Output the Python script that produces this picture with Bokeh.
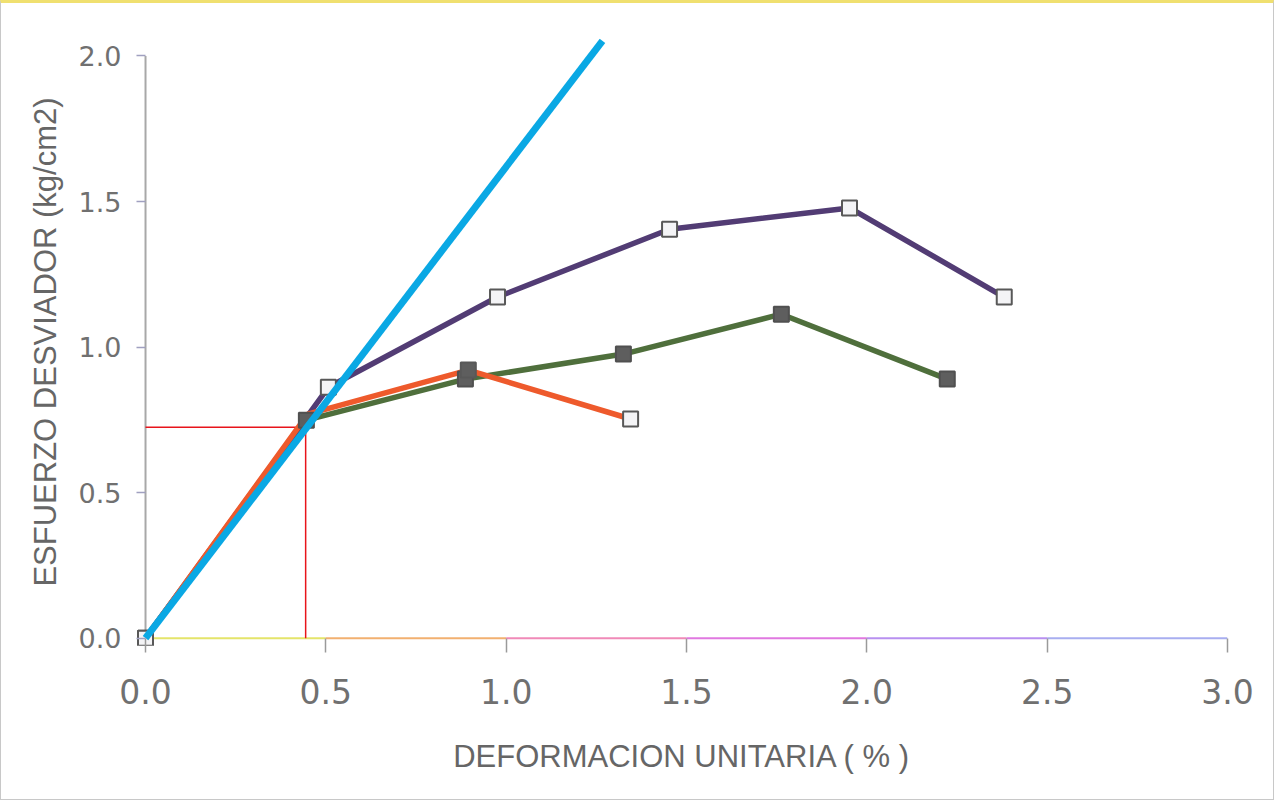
from bokeh.plotting import figure
from bokeh.models import Range1d, FixedTicker
from bokeh.embed import file_html
from bokeh.resources import INLINE

# ---- data ----
x_ticks = [0.0, 0.5, 1.0, 1.5, 2.0, 2.5, 3.0]
y_ticks = [0.0, 0.5, 1.0, 1.5, 2.0]
x_tick_labels = ["0.0", "0.5", "1.0", "1.5", "2.0", "2.5", "3.0"]
y_tick_labels = ["0.0", "0.5", "1.0", "1.5", "2.0"]

purple_x = [0.0, 0.507, 0.976, 1.453, 1.952, 2.381]
purple_y = [0.0, 0.862, 1.172, 1.405, 1.478, 1.172]

green_x = [0.0, 0.446, 0.887, 1.325, 1.763, 2.223]
green_y = [0.0, 0.749, 0.890, 0.976, 1.113, 0.890]

red_x = [0.0, 0.45, 0.895, 1.345]
red_y = [0.0, 0.77, 0.921, 0.753]

fit_x = [0.0, 1.267]
fit_y = [0.0, 2.052]

ref_x = 0.444
ref_y = 0.725

x_label = "DEFORMACION UNITARIA ( % )"
y_label = "ESFUERZO DESVIADOR (kg/cm2)"

# ---- figure ----
p = figure(width=1274, height=800,
           x_range=Range1d(-0.025, 3.0), y_range=Range1d(-0.025, 2.06),
           output_backend="svg", toolbar_location=None,
           min_border_left=135, min_border_right=48,
           min_border_top=35, min_border_bottom=158)
p.xgrid.visible = False
p.ygrid.visible = False
p.outline_line_color = None
p.background_fill_color = "white"
p.border_fill_color = "white"
p.styles = {"border": "1px solid #c8c8c8", "border-top": "3px solid #f0e070"}

# x axis
xa = p.xaxis[0]
xa.ticker = FixedTicker(ticks=x_ticks)
xa.major_label_overrides = {t: l for t, l in zip(x_ticks, x_tick_labels)}
xa.axis_line_color = None
xa.minor_tick_line_color = None
xa.major_tick_in = 7
xa.major_tick_out = 7
xa.major_tick_line_color = "#9a9a9a"
xa.major_tick_line_width = 1.5
xa.major_label_text_font = "DejaVu Sans"
xa.major_label_text_font_size = "33px"
xa.major_label_text_color = "#707070"
xa.major_label_standoff = 26
xa.axis_label = x_label
xa.axis_label_text_font = "Liberation Sans"
xa.axis_label_text_font_size = "31px"
xa.axis_label_text_font_style = "normal"
xa.axis_label_text_color = "#666666"
xa.axis_label_standoff = 32

# y axis
ya = p.yaxis[0]
ya.ticker = FixedTicker(ticks=y_ticks)
ya.major_label_overrides = {t: l for t, l in zip(y_ticks, y_tick_labels)}
ya.axis_line_color = None
ya.minor_tick_line_color = None
ya.major_tick_in = 9
ya.major_tick_out = 0
ya.major_tick_line_color = "#a0a0c0"
ya.major_tick_line_width = 1.5
ya.major_label_text_font = "DejaVu Sans"
ya.major_label_text_font_size = "27px"
ya.major_label_text_color = "#707070"
ya.major_label_standoff = 15
ya.axis_label = y_label
ya.axis_label_text_font = "Liberation Sans"
ya.axis_label_text_font_size = "31px"
ya.axis_label_text_font_style = "normal"
ya.axis_label_text_color = "#666666"
ya.axis_label_standoff = 13

# drawn axis lines at the data origin
seg_colors = ["#e4e46a", "#f2b070", "#f08ab8", "#e078e0", "#b890f0", "#a8aef0"]
p.segment(x0=x_ticks[:-1], y0=[0.0] * 6, x1=x_ticks[1:], y1=[0.0] * 6,
          line_color=seg_colors, line_width=2)
p.segment(x0=[0.0], y0=[0.0], x1=[0.0], y1=[y_ticks[-1]],
          line_color="#a8a8a8", line_width=2)

# reference red lines
p.segment(x0=[0.0, ref_x], y0=[ref_y, 0.0], x1=[ref_x, ref_x], y1=[ref_y, ref_y],
          line_color="#e8141b", line_width=1.5)

# series lines
p.line(green_x, green_y, line_color="#4f6f3c", line_width=5.5)
p.line(purple_x, purple_y, line_color="#523c74", line_width=5.5)
p.line(red_x, red_y, line_color="#ee5a2c", line_width=5.5)

# markers
p.scatter(green_x, green_y, marker="square", size=15,
          fill_color="#5e5e5e", line_color="#505050", line_width=2)
p.scatter(purple_x, purple_y, marker="square", size=15,
          fill_color="#f4f4f6", line_color="#585858", line_width=2)
p.scatter(red_x[2:], red_y[2:], marker="square", size=15,
          fill_color=["#5e5e5e", "#f4f4f6"], line_color="#585858", line_width=2)

# fitted tangent line
p.line(fit_x, fit_y, line_color="#0aa8e4", line_width=7)

open("out.html", "w").write(file_html(p, INLINE))
